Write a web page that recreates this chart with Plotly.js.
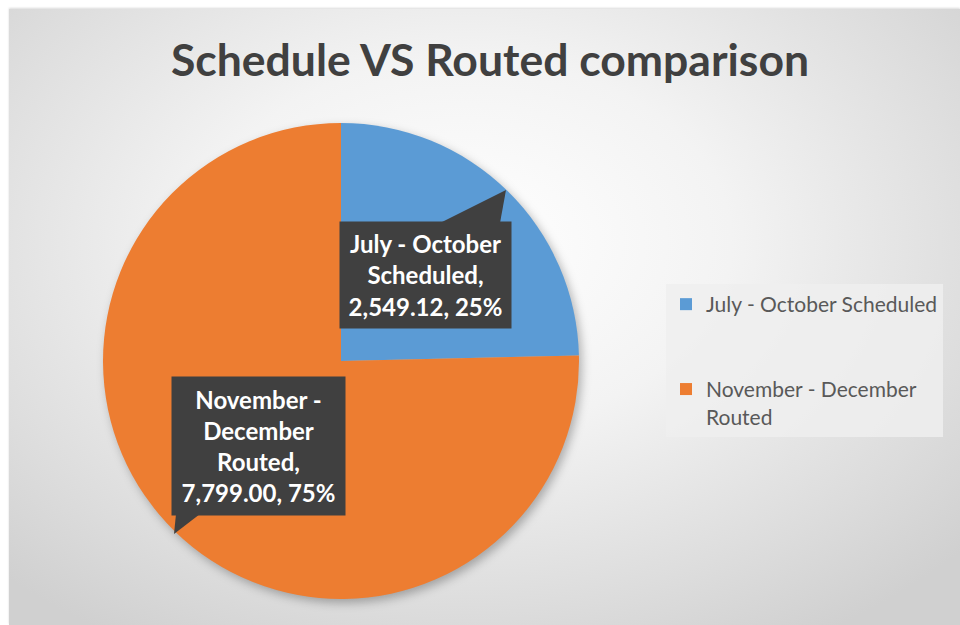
<!DOCTYPE html>
<html>
<head>
<meta charset="utf-8">
<script src="https://cdn.plot.ly/plotly-3.0.1.min.js"></script>
<style>
  html, body { margin: 0; padding: 0; background: #ffffff; }
  #wrap { position: relative; width: 960px; height: 625px; overflow: hidden; }
  #bg { position: absolute; left: 9px; top: 9px; width: 951px; height: 616px;
        background: radial-gradient(ellipse 70% 75% at 48% 38%, #ffffff 0%, #f3f3f3 40%, #dcdcdc 80%, #d0d0d0 100%);
        box-shadow: 0 -1px 2px rgba(0,0,0,0.15); }
  #chart { position: absolute; left: 0; top: 0; width: 960px; height: 625px; }
  .pielayer .trace { filter: drop-shadow(3px 4px 5px rgba(0,0,0,0.28)); }
</style>
</head>
<body>
<div id="wrap"><div id="bg"></div><div id="chart"></div></div>
<script>
const categories = ["July - October Scheduled", "November - December Routed"];
const values = [2549.12, 7799.00];
const colors = ["#5B9BD5", "#ED7D31"];
const legendLabels = ["July - October Scheduled", "November - December<br>Routed"];
const calloutText = [
  ["July - October", "Scheduled,"],
  ["November -", "December", "Routed,"]
];

const total = values.reduce((a, b) => a + b, 0);
const fmt = v => v.toLocaleString("en-US", {minimumFractionDigits: 2, maximumFractionDigits: 2});
const pct = v => Math.round(v / total * 100) + "%";

const W = 960, H = 625;
const px = x => x / W;
const py = y => 1 - y / H;

const trace = {
  type: "pie",
  labels: legendLabels.map((l, i) => i === 0 ? l + "<br> <br> " : l),
  values: values,
  sort: false,
  direction: "clockwise",
  rotation: 0,
  textinfo: "none",
  hoverinfo: "label+value+percent",
  marker: { colors: colors, line: { width: 0 } },
  domain: { x: [px(341 - 238), px(341 + 238)], y: [py(599), py(123)] },
  showlegend: true
};

const boxes = [
  { cx: 425.5, cy: 275, w: 171, h: 106 },
  { cx: 258.5, cy: 446, w: 173, h: 138 }
];

const annotations = boxes.map((b, i) => ({
  xref: "paper", yref: "paper",
  x: px(b.cx), y: py(b.cy),
  xanchor: "center", yanchor: "middle",
  showarrow: false,
  width: b.w, height: b.h,
  borderpad: 0,
  bgcolor: "#404040",
  text: calloutText[i].concat([fmt(values[i]) + ", " + pct(values[i])]).join("<br>"),
  font: { family: "Lato, 'Open Sans', sans-serif", size: 24, color: "#ffffff", weight: "bold" },
  align: "center"
}));

const pointer = pts => "M " + pts.map(p => px(p[0]) + "," + py(p[1])).join(" L ") + " Z";
const shapes = [
  { type: "path", xref: "paper", yref: "paper", path: pointer([[440, 223], [506, 190], [500, 223]]),
    fillcolor: "#404040", line: { width: 0 } },
  { type: "path", xref: "paper", yref: "paper", path: pointer([[176, 514], [174, 534], [200, 514]]),
    fillcolor: "#404040", line: { width: 0 } }
];

const layout = {
  width: W, height: H,
  margin: { l: 0, r: 0, t: 0, b: 0 },
  paper_bgcolor: "rgba(0,0,0,0)",
  plot_bgcolor: "rgba(0,0,0,0)",
  title: {
    text: "Schedule VS Routed comparison",
    font: { family: "Lato, 'Open Sans', sans-serif", size: 44.5, color: "#404040", weight: "bold" },
    x: 490 / W, xanchor: "center",
    y: py(60), yanchor: "middle",
    xref: "paper", yref: "paper"
  },
  showlegend: true,
  legend: {
    x: px(666), xanchor: "left",
    y: py(284), yanchor: "top",
    bgcolor: "rgba(238,238,238,0.85)",
    borderwidth: 0,
    valign: "top",
    font: { family: "Lato, 'Open Sans', sans-serif", size: 21, color: "#595959" },
    traceorder: "normal"
  },
  annotations: annotations,
  shapes: shapes
};

Plotly.newPlot("chart", [trace], layout, { displayModeBar: false, staticPlot: true });
</script>
</body>
</html>
